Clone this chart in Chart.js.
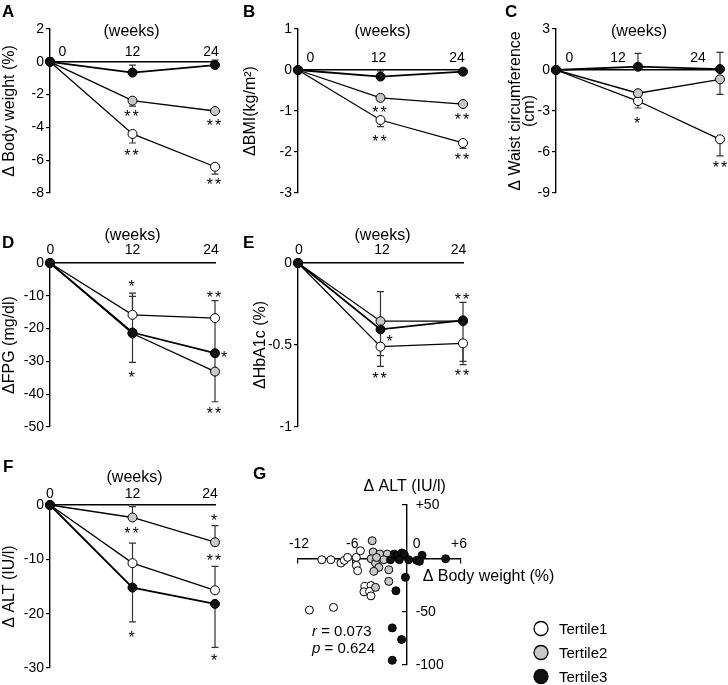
<!DOCTYPE html>
<html>
<head>
<meta charset="utf-8">
<script src="https://cdn.jsdelivr.net/npm/chart.js@4.4.0/dist/chart.umd.min.js"></script>
<style>
  body { margin: 0; background: #fff; }
  #fig { position: relative; width: 728px; height: 685px; overflow: hidden; }
  #fig canvas { position: absolute; }
</style>
</head>
<body>
<div id="fig"></div>
<script>
// time points (weeks)
const weeks = [0, 12, 24];

// A - body weight change (%), error bars as [down, up]
const bwT1 = [0, -4.4, -6.4];
const bwT2 = [0, -2.37, -3.0];
const bwT3 = [0, -0.66, -0.2];
const bwT1Err = [[0, 0], [0.55, 0], [0.45, 0]];
const bwT2Err = [[0, 0], [0.33, 0], [0.15, 0]];
const bwT3Err = [[0, 0], [0, 0.46], [0, 0.3]];

// B - BMI change
const bmiT1 = [0, -1.22, -1.78];
const bmiT2 = [0, -0.68, -0.83];
const bmiT3 = [0, -0.16, -0.04];
const bmiT1Err = [[0, 0], [0.16, 0], [0.13, 0]];
const bmiT2Err = [[0, 0], [0.07, 0], [0.04, 0]];
const bmiT3Err = [[0, 0], [0, 0.14], [0, 0.05]];

// C - waist circumference change (cm)
const waistT1 = [0, -2.27, -5.07];
const waistT2 = [0, -1.7, -0.68];
const waistT3 = [0, 0.24, 0.07];
const waistT1Err = [[0, 0], [0.51, 0], [1.22, 0]];
const waistT2Err = [[0, 0], [0.3, 0], [1.1, 0]];
const waistT3Err = [[0, 0], [0, 0.98], [0, 1.22]];

// D - FPG change (mg/dl)
const fpgT1 = [0, -15.8, -16.8];
const fpgT2 = [0, -21.5, -33.1];
const fpgT3 = [0, -21.2, -27.5];
const fpgT1Err = [[0, 0], [0, 6.6], [0, 5.3]];
const fpgT2Err = [[0, 0], [0, 11.3], [9.2, 16.3]];
const fpgT3Err = [[0, 0], [9.1, 0], [0, 0]];

// E - HbA1c change (%)
const hbaT1 = [0, -0.51, -0.49];
const hbaT2 = [0, -0.355, -0.355];
const hbaT3 = [0, -0.405, -0.35];
const hbaT1Err = [[0, 0], [0.12, 0], [0.13, 0]];
const hbaT2Err = [[0, 0], [0, 0.18], [0, 0]];
const hbaT3Err = [[0, 0], [0.16, 0], [0.25, 0.11]];

// F - ALT change (IU/l)
const altT1 = [0, -10.7, -15.7];
const altT2 = [0, -2.3, -6.85];
const altT3 = [0, -15.2, -18.2];
const altT1Err = [[0, 0], [4.5, 3.7], [0, 4.4]];
const altT2Err = [[0, 0], [0, 2.0], [0, 3.05]];
const altT3Err = [[0, 0], [6.3, 0], [8.0, 0]];

// G - scatter, body weight change (%) vs ALT change (IU/l)
const g1X = [-9.37, -8.37, -7.26, -6.89, -6.52, -5.56, -5.11, -5.56, -5.41, -4.61, -3.94, -4.72, -4.1, -3.94, -10.74, -8.08];
const g1Y = [-1.3, -1.3, -4.4, -1.9, 0.9, 0.9, 7.1, -6.6, -11.6, -26.3, -25.5, -31.4, -31.0, -35.2, -48.5, -46.0];
const g2X = [-3.81, -3.70, -3.92, -2.97, -2.14, -2.52, -3.44, -3.08, -3.63, -1.97, -1.97, -3.44, -3.33];
const g2Y = [16.5, 5.9, -0.4, 4.0, 4.0, -1.3, -4.4, -8.5, -12.2, -10.7, -21.6, -27.2, 0.8];
const g3X = [-1.78, -1.37, -1.0, -0.52, -0.26, -0.81, 0.22, 1.11, 1.70, 1.41, 4.30, -0.14, -1.19, -1.59, -0.56, -1.59];
const g3Y = [-1.3, 4.0, 2.8, 5.0, 3.4, -1.3, -1.3, -1.9, 2.8, -2.8, -0.4, -17.8, -30.4, -65.2, -76.1, -95.6];
const gXTicks = [-12, -6, 0, 6];
const gXLabels = ['-12', '-6', '0', '+6'];
const gYTicks = [50, -50, -100];
const gYLabels = ['+50', '-50', '-100'];
const groupNames = ['Tertile1', 'Tertile2', 'Tertile3'];

const FONT = '"Liberation Sans", Arial, sans-serif';
const FILL = ['#ffffff', '#c8c8c8', '#111111'];
Chart.defaults.font.family = FONT;
Chart.defaults.color = '#000';

const fig = document.getElementById('fig');

function makeCanvas(left, top, w, h) {
    const cv = document.createElement('canvas');
    cv.width = w;
    cv.height = h;
    cv.style.left = left + 'px';
    cv.style.top = top + 'px';
    cv.style.width = w + 'px';
    cv.style.height = h + 'px';
    fig.appendChild(cv);
    return cv;
}

function errorBars(errs) {
    return {
        id: 'errorBars',
        beforeDatasetsDraw(chart) {
            const ctx = chart.ctx;
            const ys = chart.scales.y;
            ctx.save();
            ctx.strokeStyle = '#333';
            ctx.lineWidth = 1.2;
            errs.forEach((err, s) => {
                const meta = chart.getDatasetMeta(s);
                const vals = chart.data.datasets[s].data;
                err.forEach(([lo, hi], i) => {
                    const pt = meta.data[i];
                    [[lo, -1], [hi, 1]].forEach(([e, dir]) => {
                        if (!e) return;
                        const yEnd = ys.getPixelForValue(vals[i].y + dir * e);
                        ctx.beginPath();
                        ctx.moveTo(pt.x, pt.y);
                        ctx.lineTo(pt.x, yEnd);
                        ctx.moveTo(pt.x - 3.5, yEnd);
                        ctx.lineTo(pt.x + 3.5, yEnd);
                        ctx.stroke();
                    });
                });
            });
            ctx.restore();
        }
    };
}

function drawStar(ctx, text, x, y) {
    ctx.font = '16px ' + FONT;
    ctx.letterSpacing = '2px';
    ctx.textAlign = 'center';
    ctx.textBaseline = 'alphabetic';
    ctx.fillText(text, x, y + 9.3);
    ctx.letterSpacing = '0px';
}

function lineDecor(p) {
    return {
        id: 'decor',
        afterDraw(chart) {
            const ctx = chart.ctx;
            const xs = chart.scales.x;
            const y0 = chart.scales.y.getPixelForValue(0);
            ctx.save();
            ctx.fillStyle = '#000';
            ctx.font = 'bold 17px ' + FONT;
            ctx.textAlign = 'left';
            ctx.textBaseline = 'alphabetic';
            ctx.fillText(p.letter, p.letterAt[0], p.letterAt[1]);

            ctx.font = '16px ' + FONT;
            ctx.textAlign = 'center';
            ctx.textBaseline = 'middle';
            ctx.fillText('(weeks)', xs.getPixelForValue(12) + p.weeksAt[0], y0 + p.weeksAt[1]);

            ctx.font = '14px ' + FONT;
            weeks.forEach((w, i) => {
                ctx.fillText(String(w), xs.getPixelForValue(w) + p.tickDx[i], y0 + p.tickDy);
            });

            p.stars.forEach(([s, i, t, dx, dy]) => {
                const pt = chart.getDatasetMeta(s).data[i];
                drawStar(ctx, t, pt.x + dx, pt.y + dy);
            });
            ctx.restore();
        }
    };
}

function linePanel(p) {
    const cv = makeCanvas(p.left, p.top, p.w, p.h);
    return new Chart(cv, {
        type: 'line',
        data: {
            datasets: p.series.map((s, k) => ({
                data: weeks.map((w, i) => ({ x: w, y: s[i] })),
                borderColor: '#000',
                borderWidth: k === 2 ? 1.8 : 1.3,
                pointRadius: 4.5,
                pointHoverRadius: 4.5,
                pointBorderWidth: 1,
                pointBorderColor: '#000',
                pointBackgroundColor: FILL[k],
                tension: 0,
                order: 2 - k,
                clip: false
            }))
        },
        options: {
            responsive: false,
            animation: false,
            devicePixelRatio: 1,
            events: [],
            layout: { padding: p.pad },
            plugins: { legend: { display: false }, tooltip: { enabled: false } },
            scales: {
                x: {
                    type: 'linear', min: 0, max: 24,
                    position: { y: 0 },
                    grid: { display: false, drawTicks: false },
                    border: { display: true, color: '#000', width: 1.4 },
                    ticks: { display: false, stepSize: 12 }
                },
                y: {
                    type: 'linear', min: p.yMin, max: p.yMax,
                    position: 'left',
                    afterFit: (scale) => { scale.width = p.yW; },
                    grid: { display: true, drawOnChartArea: false, drawTicks: true, tickLength: 4, color: '#000', lineWidth: 1.2 },
                    border: { display: true, color: '#000', width: 1.4 },
                    ticks: {
                        stepSize: p.yStep, padding: 2, color: '#000', font: { size: 14 },
                        callback: (v) => String(v)
                    },
                    title: {
                        display: true, text: p.yTitle, color: '#000', padding: 0,
                        font: { size: 16, lineHeight: p.titleLH || 1.2 }
                    }
                }
            }
        },
        plugins: [errorBars(p.errs), lineDecor(p)]
    });
}

linePanel({
    letter: 'A', letterAt: [2, 17],
    left: 0, top: 0, w: 240, h: 225,
    pad: { left: 0, right: 25, top: 29, bottom: 32 }, yW: 50,
    yMin: -8, yMax: 2, yStep: 2, yTitle: 'Δ Body weight (%)',
    series: [bwT1, bwT2, bwT3], errs: [bwT1Err, bwT2Err, bwT3Err],
    weeksAt: [-1, -30], tickDx: [12.5, 0, -4], tickDy: -10,
    stars: [[1, 1, '**', 0, 12], [0, 1, '**', 0, 18], [1, 2, '**', 0, 11], [0, 2, '**', 0, 14]]
});

linePanel({
    letter: 'B', letterAt: [3, 17],
    left: 240, top: 0, w: 240, h: 225,
    pad: { left: 1, right: 17, top: 29, bottom: 32 }, yW: 57,
    yMin: -3, yMax: 1, yStep: 1, yTitle: 'ΔBMI(kg/m²)',
    series: [bmiT1, bmiT2, bmiT3], errs: [bmiT1Err, bmiT2Err, bmiT3Err],
    weeksAt: [2, -38], tickDx: [12.5, -2, -6], tickDy: -11.7,
    stars: [[1, 1, '**', 0, 11], [0, 1, '**', 0, 18], [1, 2, '**', 0, 12], [0, 2, '**', 0, 13]]
});

linePanel({
    letter: 'C', letterAt: [25, 17],
    left: 480, top: 0, w: 248, h: 225,
    pad: { left: 28, right: 8, top: 29, bottom: 32 }, yW: 48,
    yMin: -9, yMax: 3, yStep: 3, yTitle: ['Δ Waist circumference', '(cm)'], titleLH: 0.9,
    series: [waistT1, waistT2, waistT3], errs: [waistT1Err, waistT2Err, waistT3Err],
    weeksAt: [1, -38], tickDx: [13.5, -20, -22], tickDy: -11.7,
    stars: [[0, 1, '*', 0, 19], [0, 2, '**', 1, 24]]
});

linePanel({
    letter: 'D', letterAt: [2, 23],
    left: 0, top: 225, w: 240, h: 230,
    pad: { left: 0, right: 25, top: 38, bottom: 28 }, yW: 50,
    yMin: -50, yMax: 0, yStep: 10, yTitle: 'ΔFPG (mg/dl)',
    series: [fpgT1, fpgT2, fpgT3], errs: [fpgT1Err, fpgT2Err, fpgT3Err],
    weeksAt: [0, -27], tickDx: [0.5, 0, -4], tickDy: -12.6,
    stars: [[0, 1, '*', 0, -32], [2, 1, '*', 0, 41], [0, 2, '**', 0, -24], [2, 2, '*', 10, 0], [1, 2, '**', 0, 38]]
});

linePanel({
    letter: 'E', letterAt: [3, 23],
    left: 240, top: 225, w: 240, h: 230,
    pad: { left: 11, right: 17, top: 38, bottom: 28 }, yW: 47,
    yMin: -1, yMax: 0, yStep: 0.5, yTitle: 'ΔHbA1c (%)',
    series: [hbaT1, hbaT2, hbaT3], errs: [hbaT1Err, hbaT2Err, hbaT3Err],
    weeksAt: [2, -27], tickDx: [1, 1.5, -4.5], tickDy: -12.6,
    stars: [[2, 1, '*', 10, 8], [0, 1, '**', 0, 28], [2, 2, '**', 0, -25], [0, 2, '**', 0, 28]]
});

linePanel({
    letter: 'F', letterAt: [3, 17],
    left: 0, top: 455, w: 240, h: 230,
    pad: { left: 0, right: 25, top: 50, bottom: 17 }, yW: 50,
    yMin: -30, yMax: 0, yStep: 10, yTitle: 'Δ ALT (IU/l)',
    series: [altT1, altT2, altT3], errs: [altT1Err, altT2Err, altT3Err],
    weeksAt: [2, -27], tickDx: [0, 0, -5], tickDy: -10.7,
    stars: [[1, 1, '**', 0, 12], [2, 1, '*', 0, 46], [1, 2, '*', 0, -26], [0, 2, '**', 0, -34], [2, 2, '*', 0, 53]]
});

// G - scatter with axes crossing at the origin
const scatterDecor = {
    id: 'scatterDecor',
    afterDraw(chart) {
        const ctx = chart.ctx;
        const xs = chart.scales.x, ys = chart.scales.y;
        const x0 = xs.getPixelForValue(0), y0 = ys.getPixelForValue(0);
        ctx.save();
        ctx.fillStyle = '#000';
        ctx.font = 'bold 17px ' + FONT;
        ctx.textAlign = 'left';
        ctx.textBaseline = 'alphabetic';
        ctx.fillText('G', 13, 24);

        ctx.font = '14px ' + FONT;
        ctx.textBaseline = 'middle';
        ctx.textAlign = 'center';
        const xDx = [1, 0, 10, -2];
        gXTicks.forEach((v, i) => ctx.fillText(gXLabels[i], xs.getPixelForValue(v) + xDx[i], y0 - 14));
        ctx.textAlign = 'left';
        gYTicks.forEach((v, i) => ctx.fillText(gYLabels[i], x0 + 9, ys.getPixelForValue(v)));

        ctx.font = '16px ' + FONT;
        ctx.textAlign = 'center';
        ctx.fillText('Δ ALT (IU/l)', x0 - 2, ys.top - 18);
        ctx.textAlign = 'left';
        ctx.fillText('Δ Body weight (%)', x0 + 16, y0 + 18);

        // correlation text, italic r / p
        [['r', ' = 0.073', 177], ['p', ' = 0.624', 193.5]].forEach(([sym, rest, yy]) => {
            ctx.font = 'italic 15px ' + FONT;
            ctx.fillText(sym, 72, yy);
            const w = ctx.measureText(sym).width;
            ctx.font = '15px ' + FONT;
            ctx.fillText(rest, 72 + w, yy);
        });

        // legend from dataset styles
        chart.data.datasets.forEach((ds, k) => {
            const ly = 173.5 + k * 24;
            ctx.beginPath();
            ctx.arc(301, ly, 7, 0, Math.PI * 2);
            ctx.fillStyle = ds.pointBackgroundColor;
            ctx.fill();
            ctx.lineWidth = 1.3;
            ctx.strokeStyle = '#000';
            ctx.stroke();
            ctx.fillStyle = '#000';
            ctx.font = '15px ' + FONT;
            ctx.fillText(ds.label, 319, ly + 1);
        });
        ctx.restore();
    }
};

const gCanvas = makeCanvas(240, 455, 488, 230);
new Chart(gCanvas, {
    type: 'scatter',
    data: {
        datasets: [[g1X, g1Y], [g2X, g2Y], [g3X, g3Y]].map(([xv, yv], k) => ({
            label: groupNames[k],
            data: xv.map((x, i) => ({ x: x, y: yv[i] })),
            pointRadius: 4,
            pointHoverRadius: 4,
            pointBorderWidth: 1,
            pointBorderColor: '#000',
            pointBackgroundColor: FILL[k],
            order: 2 - k,
            clip: false
        }))
    },
    options: {
        responsive: false,
        animation: false,
        devicePixelRatio: 1,
        events: [],
        layout: { padding: { left: 58, right: 267, top: 50, bottom: 20 } },
        plugins: { legend: { display: false }, tooltip: { enabled: false } },
        scales: {
            x: {
                type: 'linear', min: -12, max: 6,
                position: { y: 0 },
                grid: { display: true, drawOnChartArea: false, drawTicks: true, tickLength: 4, color: '#000', lineWidth: 1.2 },
                border: { display: true, color: '#000', width: 1.4 },
                ticks: { display: false, stepSize: 6 }
            },
            y: {
                type: 'linear', min: -100, max: 50,
                position: { x: 0 },
                grid: { display: true, drawOnChartArea: false, drawTicks: true, tickLength: 4, color: '#000', lineWidth: 1.2 },
                border: { display: true, color: '#000', width: 1.4 },
                ticks: { display: false, stepSize: 50 }
            }
        }
    },
    plugins: [scatterDecor]
});
</script>
</body>
</html>
